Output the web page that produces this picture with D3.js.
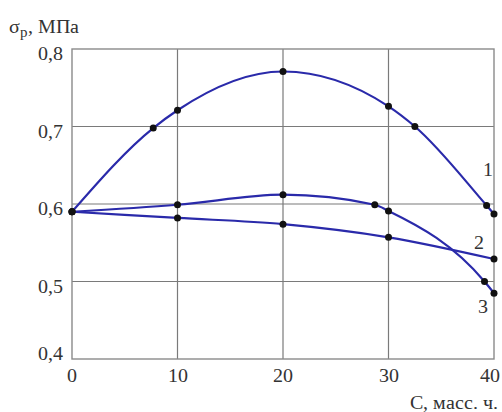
<!DOCTYPE html>
<html>
<head>
<meta charset="utf-8">
<script src="https://cdn.jsdelivr.net/npm/d3@7"></script>
<style>
  @font-face { font-family: "ChartSerif"; src: local("Liberation Serif"), local("LiberationSerif"), local("Tinos"), local("Times New Roman"); }
</style>
</head>
<body style="margin:0">
<svg id="chart" width="502" height="412" style="font-family: ChartSerif, 'Liberation Serif', 'Times New Roman';"></svg>
<script>
// Data
const xTicks = [0, 10, 20, 30, 40];
const yTicks = [0.4, 0.5, 0.6, 0.7, 0.8];
const curve1X = [0, 7.7, 10, 20, 30, 32.5, 39.3, 40];
const curve1Y = [0.59, 0.698, 0.721, 0.771, 0.726, 0.700, 0.598, 0.587];
const curve2X = [0, 10, 20, 30, 40];
const curve2Y = [0.59, 0.582, 0.574, 0.557, 0.529];
const curve3X = [0, 10, 20, 28.7, 30, 39.1, 40];
const curve3Y = [0.59, 0.599, 0.612, 0.599, 0.591, 0.500, 0.485];
const curveLabels = ["1", "2", "3"];
const labelPos = [[39.4, 0.636], [38.6, 0.542], [39.0, 0.459]];
const yTitle = "σ";
const ySub = "р";
const yTitleRest = ", МПа";
const xTitle = "С, масс. ч.";

const TXT = "#333";
const svg = d3.select("#chart");
const x = d3.scaleLinear().domain([0, 40]).range([72, 494]);
const y = d3.scaleLinear().domain([0.4, 0.8]).range([359, 49]);
const fmt = v => d3.format(".1f")(v).replace(".", ",");

// grid
const g = svg.append("g");
g.selectAll(".vg").data(xTicks.slice(1, -1)).join("line")
  .attr("x1", d => x(d)).attr("x2", d => x(d))
  .attr("y1", y(0.8)).attr("y2", y(0.4))
  .attr("stroke", "#7a7a7a").attr("stroke-width", 1.2);
g.selectAll(".hg").data(yTicks.slice(1, -1)).join("line")
  .attr("x1", x(0)).attr("x2", x(40))
  .attr("y1", d => y(d)).attr("y2", d => y(d))
  .attr("stroke", "#7a7a7a").attr("stroke-width", 1.2);
g.append("rect")
  .attr("x", x(0)).attr("y", y(0.8))
  .attr("width", x(40) - x(0)).attr("height", y(0.4) - y(0.8))
  .attr("fill", "none").attr("stroke", "#8a8a8a").attr("stroke-width", 1.4);

// axes labels
svg.selectAll("text.xl").data(xTicks).join("text").attr("class", "xl")
  .style("fill", TXT)
  .attr("x", (d, i) => i === 4 ? x(d) - 4 : x(d)).attr("y", 382)
  .attr("text-anchor", "middle").attr("font-size", 20)
  .text(d => d);
svg.selectAll("text.yl").data(yTicks).join("text").attr("class", "yl")
  .style("fill", TXT)
  .attr("x", 63).attr("y", d => d === 0.4 ? y(d) + 1 : y(d) + 11)
  .attr("text-anchor", "end").attr("font-size", 20)
  .text(d => fmt(d));

const yt = svg.append("text").style("fill", TXT)
  .attr("x", 9).attr("y", 33).attr("font-size", 20);
yt.append("tspan").text(yTitle);
yt.append("tspan").attr("font-size", 15).attr("dy", 4).text(ySub);
yt.append("tspan").attr("dy", -4).text(yTitleRest);

svg.append("text").style("fill", TXT)
  .attr("x", 498).attr("y", 409)
  .attr("text-anchor", "end").attr("font-size", 20).text(xTitle);

// curves
const series = [
  curve1X.map((v, i) => [v, curve1Y[i]]),
  curve2X.map((v, i) => [v, curve2Y[i]]),
  curve3X.map((v, i) => [v, curve3Y[i]])
];
const line = d3.line().x(d => x(d[0])).y(d => y(d[1])).curve(d3.curveMonotoneX);
svg.selectAll("path.curve").data(series).join("path").attr("class", "curve")
  .attr("d", line).attr("fill", "none")
  .attr("stroke", "#2a2aaa").attr("stroke-width", 2.2);
series.forEach(s => {
  svg.append("g").selectAll("circle").data(s).join("circle")
    .attr("cx", d => x(d[0])).attr("cy", d => y(d[1])).attr("r", 3.5)
    .attr("fill", "#111");
});
svg.selectAll("text.cl").data(curveLabels).join("text").attr("class", "cl")
  .style("fill", TXT)
  .attr("x", (d, i) => x(labelPos[i][0])).attr("y", (d, i) => y(labelPos[i][1]))
  .attr("text-anchor", "middle").attr("font-size", 20).text(d => d);
</script>
</body>
</html>
